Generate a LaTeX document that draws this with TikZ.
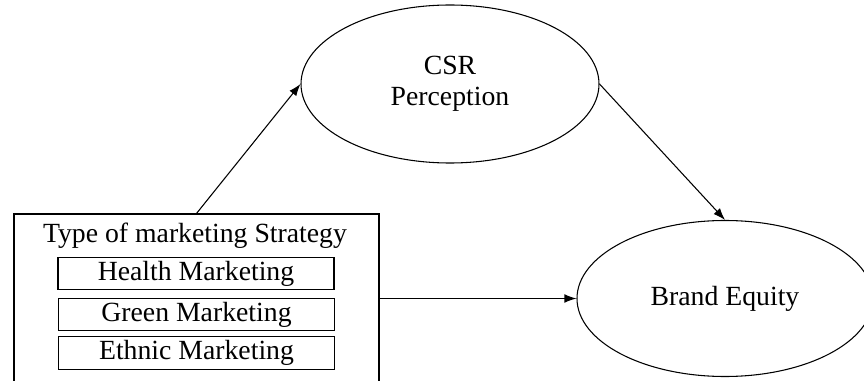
\documentclass[tikz,border=0pt]{standalone}
\usepackage{fontspec}
\setmainfont{Liberation Serif}
\usetikzlibrary{shapes,arrows.meta}

\begin{document}
\begin{tikzpicture}[x=0.75pt,y=-0.75pt,
  every node/.style={font=\fontsize{20.8}{23.5}\selectfont},
  oval/.style={draw,ellipse,line width=0.8pt,inner sep=0pt,align=center},
  item/.style={draw,line width=0.8pt,inner sep=0pt,minimum width=207pt,minimum height=24.5pt},
  link/.style={line width=0.8pt,-{Latex[length=9pt,width=6.5pt]}}]
\useasboundingbox (0,0) rectangle (864,381);
\node[draw,line width=0.8pt,minimum width=273.75pt,minimum height=129pt] (strategy) at (196.5,300) {};
\node[anchor=base] (title) at (195,243) {Type of marketing Strategy};
\node[item] (health) at (196,273.5) {Health Marketing};
\node[item] (green) at (196.5,314.5) {Green Marketing};
\node[item] (ethnic) at (196.5,353) {Ethnic Marketing};
\node[oval,minimum width=223.5pt,minimum height=118.5pt] (csr) at (450,84) {CSR\\Perception};
\node[oval,minimum width=222pt,minimum height=117pt] (equity) at (725,298.5) {Brand Equity};
\draw[link] (strategy.north) -- (csr.west);
\draw[link] (csr.east) -- (equity.north);
\draw[link] (strategy.east |- equity.west) -- (equity.west);
\end{tikzpicture}
\end{document}
